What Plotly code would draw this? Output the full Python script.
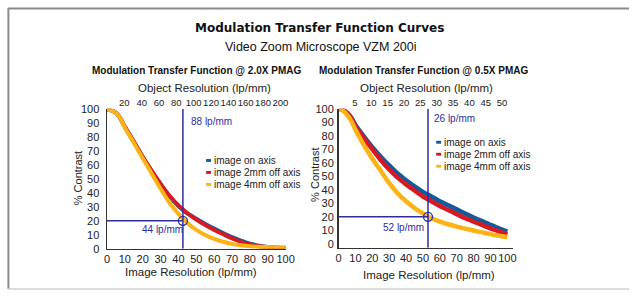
import plotly.graph_objects as go

# ---------------- data ----------------
x_img = [0, 2.5, 5, 7.5, 10, 15, 20, 25, 30, 35, 40, 45, 50, 55, 60, 65, 70, 75, 80, 85, 90, 95, 100]

# 2.0X PMAG
left_on_axis = [100, 99.3, 97.5, 93.5, 87.3, 76.8, 65.8, 55.7, 46.2, 37.7, 30.7, 25.3, 21.5, 17.8, 14.5, 11.3, 8.3, 5.8, 3.6, 2.2, 1.2, 0.8, 0.5]
left_2mm = [100, 99.3, 97.5, 93.5, 87.5, 77, 66, 56, 46.5, 38, 31, 25.5, 21, 17, 13.5, 10.5, 7.5, 5, 3, 1.8, 1, 0.6, 0.3]
left_4mm = [100, 99.3, 97.5, 93.5, 87, 76, 65, 54, 43, 33, 25, 18.5, 13.5, 9.8, 7, 5, 3.5, 2.5, 1.8, 1.4, 1.2, 1.1, 1]

# 0.5X PMAG
right_on_axis = [100, 99, 97, 93.5, 88, 79.5, 71.5, 64.5, 58, 52, 47, 42.5, 38.5, 35, 31.5, 28.5, 25.5, 22.5, 19.5, 16.8, 14, 11.5, 9]
right_2mm = [100, 99, 96.8, 93, 87, 78, 70, 62, 55, 49, 44, 39.5, 35, 31.5, 28, 25, 22, 19, 16.5, 14, 11.5, 9.3, 7]
right_4mm = [100, 98.5, 95.5, 91, 84.5, 73, 63, 54, 45, 37.5, 31.5, 26.5, 22.5, 19, 16.5, 14.5, 12.8, 11.3, 9.9, 8.5, 7.2, 6, 5]

series_names = ["image on axis", "image 2mm off axis", "image 4mm off axis"]
series_colors = ["#125a9c", "#d51a24", "#fdb316"]

bottom_ticks = list(range(0, 101, 10))
left_top_ticks = list(range(20, 201, 20))
right_top_ticks = list(range(5, 51, 5))
y_ticks = list(range(0, 101, 10))

left_cut_img, left_cut_obj, left_contrast = 42.5, 88, 20
right_cut_img, right_cut_obj, right_contrast = 53, 26, 20
left_labels = ["88 lp/mm", "44 lp/mm"]
right_labels = ["26 lp/mm", "52 lp/mm"]

# ---------------- figure ----------------
W, H = 638, 296
def px(v):
    return v / W
def py(v):
    return (H - v) / H

FONT = "Liberation Sans, Arial, sans-serif"
NAVY = "#2e2e9e"
TXT = "#222222"

fig = go.Figure()

left_series = [left_on_axis, left_2mm, left_4mm]
right_series = [right_on_axis, right_2mm, right_4mm]
for ys, c in zip(left_series, series_colors):
    fig.add_trace(go.Scatter(x=x_img, y=ys, mode="lines", line=dict(color=c, width=4, shape="spline", smoothing=0.6),
                             xaxis="x", yaxis="y", showlegend=False, hoverinfo="skip"))
for ys, c in zip(right_series, series_colors):
    fig.add_trace(go.Scatter(x=x_img, y=ys, mode="lines", line=dict(color=c, width=4.5, shape="spline", smoothing=0.6),
                             xaxis="x2", yaxis="y2", showlegend=False, hoverinfo="skip"))
# invisible traces so the top axes are drawn
fig.add_trace(go.Scatter(x=[left_top_ticks[0]], y=[50], mode="markers", marker=dict(opacity=0), xaxis="x3", yaxis="y", showlegend=False, hoverinfo="skip"))
fig.add_trace(go.Scatter(x=[right_top_ticks[0]], y=[50], mode="markers", marker=dict(opacity=0), xaxis="x4", yaxis="y2", showlegend=False, hoverinfo="skip"))

tickfont = dict(family=FONT, size=11, color=TXT)
topfont = dict(family=FONT, size=9.5, color=TXT)
common_axis = dict(showgrid=False, zeroline=False, ticks="", fixedrange=True, tickangle=0)

fig.update_layout(
    width=W, height=H, margin=dict(l=0, r=0, t=0, b=0),
    paper_bgcolor="white", plot_bgcolor="white",
    xaxis=dict(domain=[px(106), px(288)], range=[0, 100], anchor="y", tickvals=bottom_ticks, tickfont=tickfont,
               showline=True, linecolor="#333", linewidth=1.5, ticklabelstandoff=0, **common_axis),
    yaxis=dict(domain=[py(253), py(107)], range=[0, 100.5], anchor="x", tickvals=y_ticks, tickfont=tickfont,
               showline=True, linecolor="#333", linewidth=1.5, ticklabelstandoff=4, **common_axis),
    xaxis3=dict(overlaying="x", side="top", anchor="y", range=[0, 206], tickvals=left_top_ticks, tickfont=topfont,
                showline=False, ticklabelstandoff=0, **common_axis),
    xaxis2=dict(domain=[px(342), px(520)], range=[0, 103.5], anchor="y2", tickvals=bottom_ticks, tickfont=tickfont,
                showline=True, linecolor="#333", linewidth=1.5, ticklabelstandoff=0, **common_axis),
    yaxis2=dict(domain=[py(252), py(107)], range=[-2.9, 100], anchor="x2", tickvals=y_ticks, tickfont=tickfont,
                showline=True, linecolor="#333", linewidth=1.5, ticklabelstandoff=1, **common_axis),
    xaxis4=dict(overlaying="x2", side="top", anchor="y2", range=[0, 53.4], tickvals=right_top_ticks, tickfont=topfont,
                showline=False, ticklabelstandoff=0, **common_axis),
)

shapes = []
# frame
shapes.append(dict(type="line", xref="paper", yref="paper", x0=px(5), x1=1.0, y0=py(2.5), y1=py(2.5), line=dict(color="#8a8a8a", width=2)))
shapes.append(dict(type="line", xref="paper", yref="paper", x0=px(5.5), x1=px(5.5), y0=py(2), y1=py(295), line=dict(color="#8a8a8a", width=2)))
shapes.append(dict(type="line", xref="paper", yref="paper", x0=px(5), x1=1.0, y0=py(295), y1=py(295), line=dict(color="#d0d0d0", width=1.5)))

# reference lines
for (xr, yr, cut, con, top, ybot) in [("x", "y", left_cut_img, left_contrast, 100.5, 0), ("x2", "y2", right_cut_img, right_contrast, 100, -2.9)]:
    shapes.append(dict(type="line", xref=xr, yref=yr, x0=cut, x1=cut, y0=ybot, y1=top, line=dict(color=NAVY, width=1.5)))
    shapes.append(dict(type="line", xref=xr, yref=yr, x0=0, x1=cut, y0=con, y1=con, line=dict(color=NAVY, width=1.5)))
    shapes.append(dict(type="circle", xref=xr, yref=yr, xsizemode="pixel", ysizemode="pixel",
                       xanchor=cut, yanchor=con, x0=-4.5, x1=4.5, y0=-4.5, y1=4.5, line=dict(color=NAVY, width=1.3)))

annotations = []
def txt(x, y, s, size=11, color=TXT, bold=False, xanchor="center", angle=0, family=FONT):
    annotations.append(dict(x=px(x), y=py(y), xref="paper", yref="paper", text=("<b>%s</b>" % s) if bold else s,
                            showarrow=False, xanchor=xanchor, yanchor="middle", textangle=angle,
                            font=dict(family=family, size=size, color=color)))

txt(322.5, 22.5, "Modulation Transfer Function Curves", size=12, bold=True, color="#111", family="DejaVu Sans, Liberation Sans, sans-serif")
txt(324, 43, "Video Zoom Microscope VZM 200i", size=12.5, color="#111")
txt(197, 67, "Modulation Transfer Function @ 2.0X PMAG", size=10, bold=True, color="#111")
txt(429, 67, "Modulation Transfer Function @ 0.5X PMAG", size=10, bold=True, color="#111")
txt(205, 85, "Object Resolution (lp/mm)", size=11.5)
txt(432, 85, "Object Resolution (lp/mm)", size=11.5)
txt(192, 277, "Image Resolution (lp/mm)", size=11.5)
txt(434.5, 280, "Image Resolution (lp/mm)", size=11.5)
txt(76, 180, "% Contrast", size=11, angle=-90)
txt(318, 176, "% Contrast", size=11, angle=-90)

txt(190, 120, left_labels[0], size=10, color=NAVY, xanchor="left")
txt(140, 233, left_labels[1], size=10, color=NAVY, xanchor="left")
txt(437, 117, right_labels[0], size=10, color=NAVY, xanchor="left")
txt(385, 231, right_labels[1], size=10, color=NAVY, xanchor="left")

# legends
for (lx, ly0) in [(207, 161), (441.5, 142)]:
    for i, (name, c) in enumerate(zip(series_names, series_colors)):
        yy = ly0 + i * 12.5
        shapes.append(dict(type="rect", xref="paper", yref="paper", x0=px(lx), x1=px(lx + 5), y0=py(yy + 1.5), y1=py(yy - 1.5),
                           line=dict(width=0), fillcolor=c))
        txt(lx + 6, yy, name, size=10, xanchor="left")

fig.update_layout(shapes=shapes, annotations=annotations)
fig.write_html("out.html", config={"displayModeBar": False, "staticPlot": True},
               post_script="document.body.style.margin='0px';document.body.style.padding='0px';")
